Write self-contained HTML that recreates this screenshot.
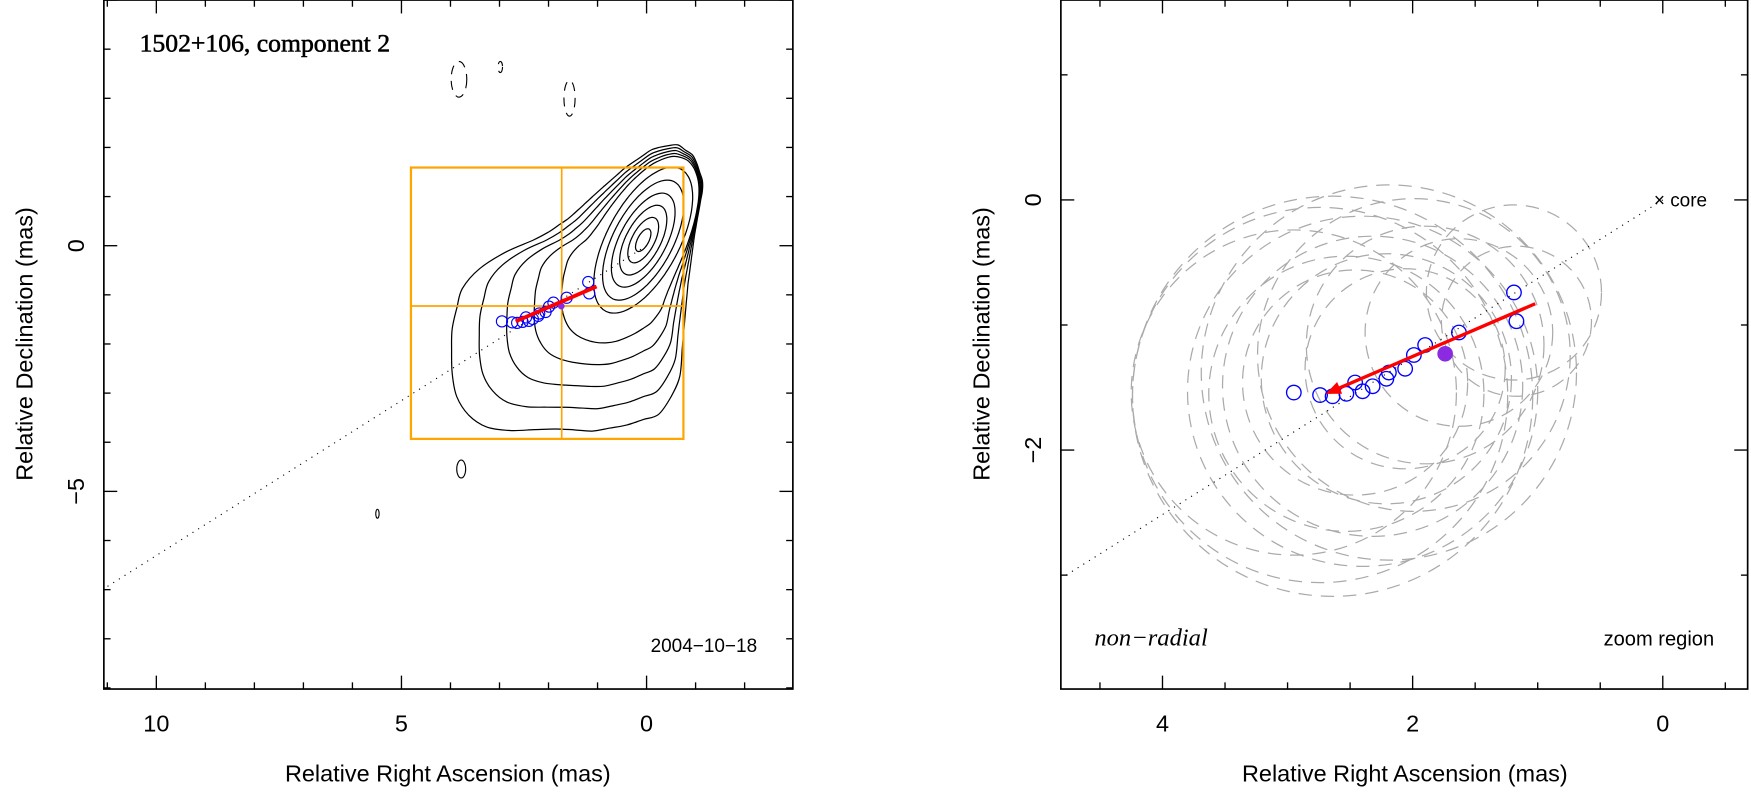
<!DOCTYPE html>
<html><head><meta charset="utf-8"><style>
html,body{margin:0;padding:0;background:#fff;}
svg{display:block;}
text{font-family:"Liberation Sans",sans-serif;fill:#000;}
</style></head><body>
<svg id="fig" width="1751" height="809" viewBox="0 0 1568 724.4" xmlns="http://www.w3.org/2000/svg">
<g id="left"></g>
<g id="right"></g>
</svg>
<script>
// ---- data (mas) ----
const compRA  = [2.95,2.74,2.64,2.53,2.46,2.40,2.32,2.21,2.19,2.06,1.99,1.90,1.63,1.19,1.17];
const compDec = [-1.54,-1.56,-1.57,-1.55,-1.46,-1.53,-1.49,-1.43,-1.38,-1.35,-1.24,-1.16,-1.06,-0.74,-0.97];
const fitStart = [1.02,-0.83];
const fitEnd   = [2.67,-1.54];
const meanPos  = [1.74,-1.23];
const circRadius = [1.3,1.5,1.6,1.1,0.9,1.4,1.2,1.0,1.5,0.8,1.25,0.95,0.75,0.7,0.6];
const leftXTicks = ["10","5","0"];
const leftYTicks = ["0","−5"];
const rightXTicks = ["4","2","0"];
const rightYTicks = ["0","−2"];
const innerLevels = [0.14,0.28,0.43,0.58,0.74,0.9];
const outerLevels = [0.2,0.4,0.6,0.8,1.0];

const NS="http://www.w3.org/2000/svg";
function mk(tag,attrs,parent){const e=document.createElementNS(NS,tag);for(const k in attrs)e.setAttribute(k,attrs[k]);parent.appendChild(e);return e;}
function smoothClosed(pts){const n=pts.length;let d='M'+pts[0][0].toFixed(1)+','+pts[0][1].toFixed(1);
  for(let i=0;i<n;i++){const p0=pts[(i-1+n)%n],p1=pts[i],p2=pts[(i+1)%n],p3=pts[(i+2)%n];
    const c1=[p1[0]+(p2[0]-p0[0])/6,p1[1]+(p2[1]-p0[1])/6],c2=[p2[0]-(p3[0]-p1[0])/6,p2[1]-(p3[1]-p1[1])/6];
    d+=` C${c1[0].toFixed(1)},${c1[1].toFixed(1)} ${c2[0].toFixed(1)},${c2[1].toFixed(1)} ${p2[0].toFixed(1)},${p2[1].toFixed(1)}`;}
  return d+'Z';}

// ---- LEFT PANEL ----
const L=document.getElementById('left');
const lx=ra=>579-ra*43.9, ly=d=>220-d*44;
const LX0=93,LX1=710,LY0=0,LY1=617;
const outer=[[622,140],[606,129],[585,133],[560,150],[535,172],[510,195],[485,212],[460,222],[435,235],[415,255],[405,290],[404,330],[410,360],[425,378],[445,386],[470,385],[500,384],[530,386],[560,381],[590,371],[608,345],[612,300],[616,255],[622,210],[630,165]];
const cx0=576,cy0=215;
function rayPoly(th){const dx=Math.cos(th),dy=Math.sin(th);let best=0;
  for(let i=0;i<outer.length;i++){const a=outer[i],b=outer[(i+1)%outer.length];
    const ex=b[0]-a[0],ey=b[1]-a[1];const den=dx*ey-dy*ex;if(Math.abs(den)<1e-9)continue;
    const t=((a[0]-cx0)*ey-(a[1]-cy0)*ex)/den;const u=((a[0]-cx0)*dy-(a[1]-cy0)*dx)/den;
    if(t>0&&u>=0&&u<=1)best=Math.max(best,t);}return best;}
const ea=36,eb=80,rot=28*Math.PI/180;
function rEll(th){const c=Math.cos(th-rot),s=Math.sin(th-rot);
  return 1/Math.sqrt((c*c)/(ea*ea)+(s*s)/(eb*eb));}
const N=72;
function contour(rf){const pts=[];for(let k=0;k<N;k++){const th=k/N*2*Math.PI;const r=rf(th);pts.push([cx0+r*Math.cos(th),cy0+r*Math.sin(th)]);}return pts;}
innerLevels.forEach(f=>{const c=mk('path',{d:smoothClosed(contour(th=>rEll(th)*f)),fill:'none',stroke:'#000','stroke-width':1.1},L);
  });
outerLevels.forEach(w=>{const c=mk('path',{d:smoothClosed(contour(th=>{const re=rEll(th),ro=Math.max(rayPoly(th),re*1.02);return re+(ro-re)*w;})),fill:'none',stroke:'#000','stroke-width':1.1},L);
  });
[[413,420,4,8],[338,460,1.5,4]].forEach(a=>{const e=mk('ellipse',{cx:a[0],cy:a[1],rx:a[2],ry:a[3],fill:'none',stroke:'#000','stroke-width':1},L);
  });
[[411,71,7,16],[510,88,5,16],[448,60,2,5]].forEach(a=>{const e=mk('ellipse',{cx:a[0],cy:a[1],rx:a[2],ry:a[3],fill:'none',stroke:'#000','stroke-width':1,'stroke-dasharray':'8 6'},L);
  });
let ob=mk('rect',{x:368,y:150,width:244,height:243,fill:'none',stroke:'#ffa500','stroke-width':2},L);

let oh=mk('line',{x1:368,y1:274,x2:612,y2:274,stroke:'#ffa500','stroke-width':1.5},L);

let ov=mk('line',{x1:503,y1:150,x2:503,y2:393,stroke:'#ffa500','stroke-width':1.5},L);

let dl=mk('line',{x1:lx(0),y1:ly(0),x2:lx(11.07),y2:ly(-6.98),stroke:'#000','stroke-width':1,'stroke-dasharray':'1 5'},L);

compRA.forEach((r,i)=>{const c=mk('circle',{cx:lx(r),cy:ly(compDec[i]),r:5,fill:'none',stroke:'#0000ff','stroke-width':1},L);
  });
let mp=mk('circle',{cx:lx(meanPos[0]),cy:ly(meanPos[1]),r:3,fill:'#8a2be2'},L);

let fl=mk('line',{x1:lx(fitStart[0]),y1:ly(fitStart[1]),x2:lx(fitEnd[0]),y2:ly(fitEnd[1]),stroke:'#ff0000','stroke-width':3.5},L);

let lf=mk('rect',{x:LX0,y:LY0,width:LX1-LX0,height:LY1-LY0,fill:'none',stroke:'#000','stroke-width':1.5},L);

for(let v=-2;v<=11;v++){const x=lx(v);if(x<LX0||x>LX1)continue;const len=v%5===0?12:6;
  mk('line',{x1:x,y1:LY1,x2:x,y2:LY1-len,stroke:'#000','stroke-width':1.2},L);
  mk('line',{x1:x,y1:LY0,x2:x,y2:LY0+len,stroke:'#000','stroke-width':1.2},L);}
for(let v=-9;v<=5;v++){const y=ly(v);if(y<LY0||y>LY1)continue;const len=v%5===0?12:6;
  mk('line',{x1:LX0,y1:y,x2:LX0+len,y2:y,stroke:'#000','stroke-width':1.2},L);
  mk('line',{x1:LX1,y1:y,x2:LX1-len,y2:y,stroke:'#000','stroke-width':1.2},L);}
[10,5,0].forEach((v,i)=>{const t=mk('text',{x:lx(v),y:655,'font-size':21,'text-anchor':'middle'},L);t.textContent=leftXTicks[i];
  });
[0,-5].forEach((v,i)=>{const t=mk('text',{x:0,y:0,'font-size':21,'text-anchor':'middle',transform:`translate(75,${ly(v)}) rotate(-90)`},L);t.textContent=leftYTicks[i];
  });
let t1=mk('text',{x:401,y:700,'font-size':21,'text-anchor':'middle'},L);t1.textContent='Relative Right Ascension (mas)';

let t2=mk('text',{x:0,y:0,'font-size':21,'text-anchor':'middle',transform:'translate(29,308) rotate(-90)'},L);t2.textContent='Relative Declination (mas)';

let tt=mk('text',{x:125,y:46,'font-size':23,stroke:'#000','stroke-width':0.5},L);tt.textContent='1502+106, component 2';tt.style.fontFamily='"Liberation Serif",serif';

let td=mk('text',{x:678,y:584,'font-size':17,'text-anchor':'end',fill:'#333'},L);td.textContent='2004−10−18';


// ---- RIGHT PANEL ----
const R=document.getElementById('right');
const rx=ra=>1489-ra*112, ry=d=>179-d*112;
const RX0=950,RX1=1565,RY0=0,RY1=617;
const clip=mk('clipPath',{id:'rclip'},R);mk('rect',{x:RX0,y:RY0,width:RX1-RX0,height:RY1-RY0},clip);
const rg=mk('g',{'clip-path':'url(#rclip)'},R);
compRA.forEach((r,i)=>{const c=mk('circle',{cx:rx(r),cy:ry(compDec[i]),r:circRadius[i]*112,fill:'none',stroke:'#aaa','stroke-width':1.1,'stroke-dasharray':'12 8'},rg);
  });
let rdl=mk('line',{x1:rx(0),y1:ry(0),x2:rx(4.77),y2:ry(-3.0),stroke:'#000','stroke-width':1,'stroke-dasharray':'1 5'},rg);

compRA.forEach((r,i)=>{const c=mk('circle',{cx:rx(r),cy:ry(compDec[i]),r:6.5,fill:'none',stroke:'#0000ff','stroke-width':1.2},R);
  });
let rmp=mk('circle',{cx:rx(meanPos[0]),cy:ry(meanPos[1]),r:7,fill:'#8a2be2'},R);

const ax1=rx(fitStart[0]),ay1=ry(fitStart[1]),ax2=rx(fitEnd[0]),ay2=ry(fitEnd[1]);
let rfl=mk('line',{x1:ax1,y1:ay1,x2:ax2,y2:ay2,stroke:'#ff0000','stroke-width':3},R);

{const ang=Math.atan2(ay2-ay1,ax2-ax1),L2=12,w=0.5;
 const p=[[ax2+3*Math.cos(ang),ay2+3*Math.sin(ang)],[ax2-L2*Math.cos(ang-w),ay2-L2*Math.sin(ang-w)],[ax2-L2*Math.cos(ang+w),ay2-L2*Math.sin(ang+w)]];
 const ah=mk('polygon',{points:p.map(q=>q.join(',')).join(' '),fill:'#ff0000'},R);
 }
let cl=mk('text',{x:rx(0)-8,y:ry(0)+6,'font-size':17},R);cl.textContent='× core';

let rf=mk('rect',{x:RX0,y:RY0,width:RX1-RX0,height:RY1-RY0,fill:'none',stroke:'#000','stroke-width':1.5},R);

for(let v=-0.5;v<=4.5;v+=0.5){const x=rx(v);if(x<RX0||x>RX1)continue;const len=(Math.round(v*2)%4===0)?12:6;
  mk('line',{x1:x,y1:RY1,x2:x,y2:RY1-len,stroke:'#000','stroke-width':1.2},R);
  mk('line',{x1:x,y1:RY0,x2:x,y2:RY0+len,stroke:'#000','stroke-width':1.2},R);}
for(let v=-4;v<=1;v++){const y=ry(v);if(y<RY0||y>RY1)continue;const len=v%2===0?12:6;
  mk('line',{x1:RX0,y1:y,x2:RX0+len,y2:y,stroke:'#000','stroke-width':1.2},R);
  mk('line',{x1:RX1,y1:y,x2:RX1-len,y2:y,stroke:'#000','stroke-width':1.2},R);}
[4,2,0].forEach((v,i)=>{const t=mk('text',{x:rx(v),y:655,'font-size':21,'text-anchor':'middle'},R);t.textContent=rightXTicks[i];
  });
[0,-2].forEach((v,i)=>{const t=mk('text',{x:0,y:0,'font-size':21,'text-anchor':'middle',transform:`translate(932,${ry(v)}) rotate(-90)`},R);t.textContent=rightYTicks[i];
  });
let r1=mk('text',{x:1258,y:700,'font-size':21,'text-anchor':'middle'},R);r1.textContent='Relative Right Ascension (mas)';

let r2=mk('text',{x:0,y:0,'font-size':21,'text-anchor':'middle',transform:'translate(886,308) rotate(-90)'},R);r2.textContent='Relative Declination (mas)';

let nr=mk('text',{x:980,y:578,'font-size':22,'font-style':'italic'},R);nr.textContent='non−radial';nr.style.fontFamily='"Liberation Serif",serif';

let zr=mk('text',{x:1535,y:578,'font-size':18,'text-anchor':'end',fill:'#333'},R);zr.textContent='zoom region';

</script>
</body></html>
